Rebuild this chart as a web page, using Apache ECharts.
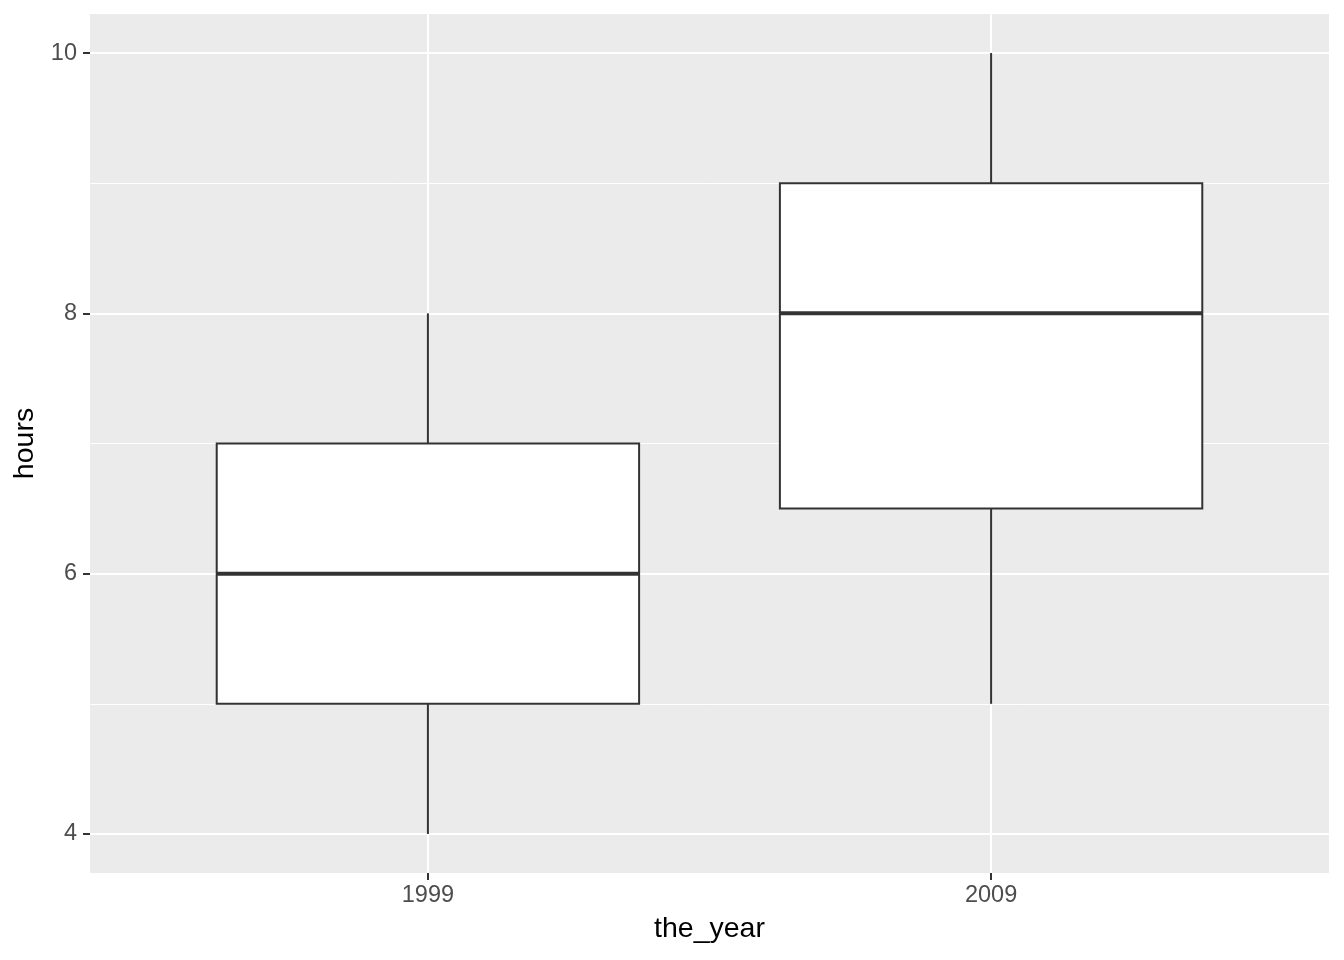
<!DOCTYPE html>
<html><head><meta charset="utf-8">
<script src="https://cdn.jsdelivr.net/npm/echarts@6/dist/echarts.min.js"></script>
<style>html,body{margin:0;padding:0;background:#fff}#c{width:1344px;height:960px}</style>
</head><body><div id="c"></div>
<script>
const categories = ['1999', '2009'];
const lowWhisker = [4, 5];
const q1 = [5, 6.5];
const median = [6, 8];
const q3 = [7, 9];
const highWhisker = [8, 10];
const yMajorTicks = [4, 6, 8, 10];
const yMinorTicks = [5, 7, 9];
const xTickPositions = [1, 2];

const data = categories.map((c, i) => [i + 1, lowWhisker[i], q1[i], median[i], q3[i], highWhisker[i]]);
const boxWidth = 0.75;

const chart = echarts.init(document.getElementById('c'), null, {renderer: 'canvas'});
const font = 'Liberation Sans, Arial, sans-serif';
chart.setOption({
  animation: false,
  backgroundColor: '#ffffff',
  grid: {left: 90, right: 15, top: 14, bottom: 87, show: true, backgroundColor: '#EBEBEB', borderWidth: 0},
  xAxis: {
    type: 'value', min: 0.4, max: 2.6,
    name: 'the_year', nameLocation: 'middle', nameGap: 42,
    nameTextStyle: {fontFamily: font, fontSize: 28.5, color: '#000'},
    axisLine: {show: false},
    axisTick: {show: true, length: 7, lineStyle: {color: '#333333', width: 2}, customValues: xTickPositions},
    axisLabel: {customValues: xTickPositions, formatter: v => categories[Math.round(v) - 1] || '', fontFamily: font, fontSize: 23.5, color: '#4D4D4D', margin: 11},
    splitLine: {show: true, lineStyle: {color: '#ffffff', width: 2}}
  },
  yAxis: [{
    type: 'value', min: 3.7, max: 10.3,
    name: 'hours', nameLocation: 'middle', nameGap: 50, nameRotate: 90,
    nameTextStyle: {fontFamily: font, fontSize: 28.5, color: '#000'},
    axisLine: {show: false},
    axisTick: {show: true, length: 7, lineStyle: {color: '#333333', width: 2}, customValues: yMajorTicks},
    axisLabel: {customValues: yMajorTicks, fontFamily: font, fontSize: 23.5, color: '#4D4D4D', margin: 13},
    splitLine: {show: true, lineStyle: {color: '#ffffff', width: 2}}
  }, {
    type: 'value', min: 3.7, max: 10.3, position: 'left',
    axisLine: {show: false}, axisLabel: {show: false},
    axisTick: {show: false, customValues: yMinorTicks},
    splitLine: {show: true, lineStyle: {color: '#ffffff', width: 1}}
  }],
  series: [{
    type: 'custom',
    yAxisIndex: 0,
    data: data,
    encode: {x: 0, y: [1, 2, 3, 4, 5]},
    renderItem: function (params, api) {
      const x = api.value(0);
      const half = boxWidth / 2;
      const pLow = api.coord([x, api.value(1)]);
      const pQ1L = api.coord([x - half, api.value(2)]);
      const pQ1R = api.coord([x + half, api.value(2)]);
      const pMedL = api.coord([x - half, api.value(3)]);
      const pMedR = api.coord([x + half, api.value(3)]);
      const pQ3L = api.coord([x - half, api.value(4)]);
      const pHigh = api.coord([x, api.value(5)]);
      const pQ1 = api.coord([x, api.value(2)]);
      const pQ3 = api.coord([x, api.value(4)]);
      const stroke = {stroke: '#333333', lineWidth: 2};
      return {
        type: 'group',
        children: [
          {type: 'line', shape: {x1: pLow[0], y1: pLow[1], x2: pQ1[0], y2: pQ1[1]}, style: stroke},
          {type: 'line', shape: {x1: pQ3[0], y1: pQ3[1], x2: pHigh[0], y2: pHigh[1]}, style: stroke},
          {type: 'rect', shape: {x: pQ3L[0], y: pQ3L[1], width: pQ1R[0] - pQ3L[0], height: pQ1L[1] - pQ3L[1]}, style: {fill: '#ffffff', stroke: '#333333', lineWidth: 2}},
          {type: 'line', shape: {x1: pMedL[0], y1: pMedL[1], x2: pMedR[0], y2: pMedR[1]}, style: {stroke: '#333333', lineWidth: 4}}
        ]
      };
    }
  }]
});
</script></body></html>
